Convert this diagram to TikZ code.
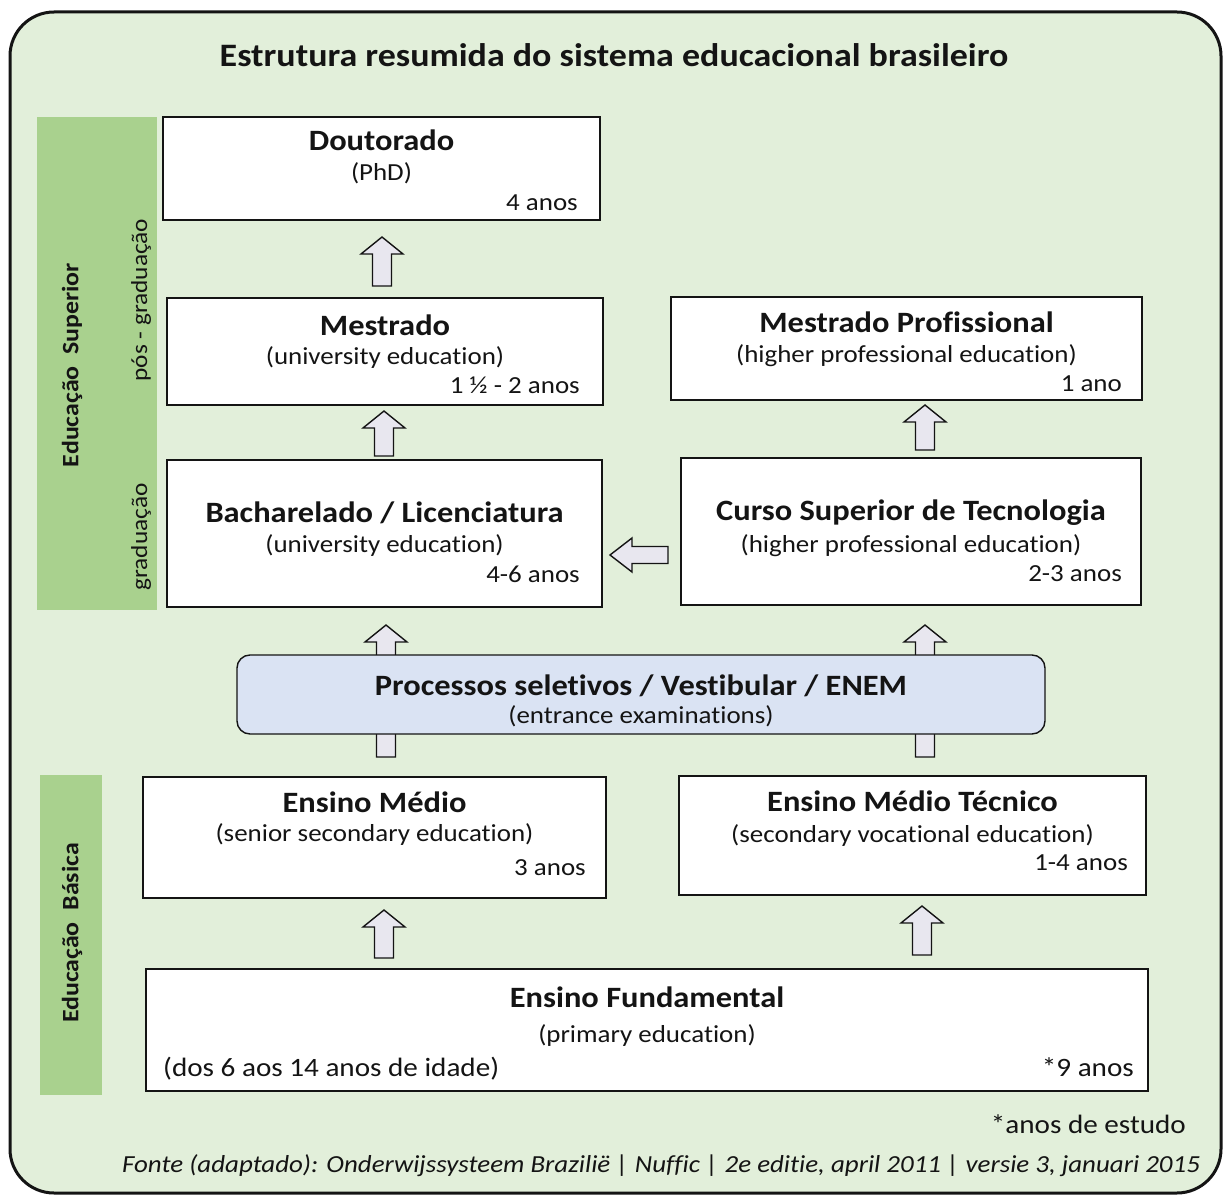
\documentclass[tikz,border=0pt]{standalone}
\usepackage{fontspec}
\setmainfont{Carlito}[FakeStretch=1.1, Ligatures=CommonOff]
\usetikzlibrary{fit,calc}

\definecolor{panelgreen}{HTML}{E2EFDA}
\definecolor{bargreen}{HTML}{A9D18E}
\definecolor{examblue}{HTML}{DAE3F3}
\definecolor{arrowgray}{HTML}{E8E7EF}
\definecolor{ink}{HTML}{141414}

\tikzset{
  box/.style={draw=ink, line width=1.4pt, fill=white, inner sep=0pt},
  exambox/.style={box, fill=examblue, rounded corners=13pt},
  sidebar/.style={fill=bargreen, inner sep=0pt},
  ttl/.style={font=\bfseries\fontsize{29.5}{34}\selectfont, anchor=base, inner sep=0pt, text=ink},
  sub/.style={font=\fontsize{24.5}{29}\selectfont, anchor=base, inner sep=0pt, text=ink},
  yrs/.style={sub, anchor=base east},
  note/.style={font=\fontsize{26.5}{31}\selectfont, inner sep=0pt, text=ink},
  sidebold/.style={font=\bfseries\fontsize{23.5}{28}\selectfont, rotate=90, inner sep=0pt, text=ink},
  sidenorm/.style={font=\fontsize{23}{27}\selectfont, rotate=90, inner sep=0pt, text=ink},
  blockarrow/.style={draw=ink, line width=1.4pt, fill=arrowgray, line join=miter},
  pics/uparr/.style={code={
    \draw[blockarrow] (-9.5,#1) -- (-9.5,17) -- (-21,17) -- (0,0) -- (21,17)
      -- (9.5,17) -- (9.5,#1) -- cycle;}},
}

\begin{document}
\begin{tikzpicture}[x=1pt, y=-1pt]
\useasboundingbox (0,0) rectangle (1227,1196);
\fill[white] (0,0) rectangle (1227,1196);

% outer panel
\draw[draw=ink, line width=3pt, fill=panelgreen, rounded corners=44pt]
  (10,12) rectangle (1221,1193);

\node[font=\bfseries\fontsize{32.7}{38}\selectfont, anchor=base, inner sep=0pt, text=ink]
  (title) at (614,67) {Estrutura resumida do sistema educacional brasileiro};

% level bars on the left
\node[sidebar, fit={(37,117) (157,610)}] (supbar) {};
\node[sidebar, fit={(40,775) (102,1095)}] (basbar) {};
\node[sidebold] (suplbl) at (72,365) {Educação\hspace{0.5em}Superior};
\node[sidenorm] (poslbl) at (141,300) {pós - graduação};
\node[sidenorm] (gradlbl) at (141,537) {graduação};
\node[sidebold] (baslbl) at (72,933) {Educação\hspace{0.5em}Básica};

% arrows between levels (drawn first so boxes sit on top)
\pic at (382,237) {uparr=49};
\pic at (384,411) {uparr=45};
\pic at (925,405) {uparr=45};
\pic at (386,625) {uparr=132};
\pic at (925,625) {uparr=132};
\pic at (384,910) {uparr=48};
\pic at (922,906) {uparr=49};
\draw[blockarrow] (610,555) -- (632,538) -- (632,546.5) -- (668,546.5)
  -- (668,563.5) -- (632,563.5) -- (632,572) -- cycle;

% programme boxes
\node[box, fit={(163,117) (600,220)}] (dout) {};
\node[ttl] (doutT) at (381.5,151) {Doutorado};
\node[sub] (doutS) at (381.5,181) {(PhD)};
\node[yrs] (doutY) at (578,211) {4 anos};

\node[box, fit={(167,298) (603,405)}] (mest) {};
\node[ttl] (mestT) at (385,335) {Mestrado};
\node[sub] (mestS) at (385,364) {(university education)};
\node[yrs] (mestY) at (580,393) {1 ½ - 2 anos};

\node[box, fit={(671,297) (1142,400)}] (mprof) {};
\node[ttl] (mprofT) at (906.5,332) {Mestrado Profissional};
\node[sub] (mprofS) at (906.5,362) {(higher professional education)};
\node[yrs] (mprofY) at (1122,391) {1 ano};

\node[box, fit={(167,460) (602,607)}] (bach) {};
\node[ttl] (bachT) at (384.5,522) {Bacharelado / Licenciatura};
\node[sub] (bachS) at (384.5,552) {(university education)};
\node[yrs] (bachY) at (580,582) {4-6 anos};

\node[box, fit={(681,458) (1141,605)}] (curso) {};
\node[ttl] (cursoT) at (911,520) {Curso Superior de Tecnologia};
\node[sub] (cursoS) at (911,552) {(higher professional education)};
\node[yrs] (cursoY) at (1122,581) {2-3 anos};

\node[exambox, fit={(237,655) (1045,734)}] (proc) {};
\node[ttl] (procT) at (641,695) {Processos seletivos / Vestibular / ENEM};
\node[sub] (procS) at (641,723) {(entrance examinations)};

\node[box, fit={(143,777) (606,898)}] (medio) {};
\node[ttl] (medioT) at (374.5,812) {Ensino Médio};
\node[sub] (medioS) at (374.5,841) {(senior secondary education)};
\node[yrs] (medioY) at (586,875) {3 anos};

\node[box, fit={(679,776) (1146,895)}] (tecn) {};
\node[ttl] (tecnT) at (912.5,811) {Ensino Médio Técnico};
\node[sub] (tecnS) at (912.5,842) {(secondary vocational education)};
\node[yrs] (tecnY) at (1128,870) {1-4 anos};

\node[box, fit={(146,969) (1148,1091)}] (fund) {};
\node[ttl] (fundT) at (647,1007) {Ensino Fundamental};
\node[sub] (fundS) at (647,1042) {(primary education)};
\node[note, anchor=base west] (fundA) at (163,1076) {(dos 6 aos 14 anos de idade)};
\node[note, anchor=base east] (fundY) at (1134,1076) {*9 anos};

% notes
\node[note, anchor=base east] (remark) at (1186,1133) {*anos de estudo};
\node[anchor=base west, inner sep=0pt, text=ink, font=\itshape\fontsize{24.5}{29}\selectfont] (src) at (122,1172)
  {Fonte (adaptado): Onderwijssysteem Brazilië | Nuffic | 2e editie, april 2011 | versie 3, januari 2015};
\end{tikzpicture}
\end{document}
